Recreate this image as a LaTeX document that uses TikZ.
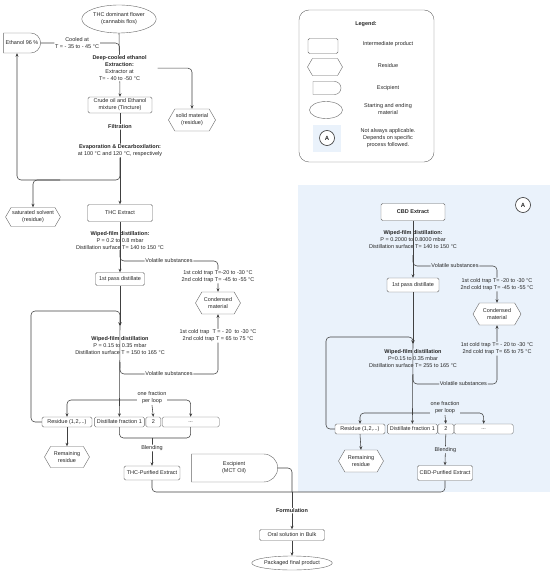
\documentclass[tikz,border=0pt]{standalone}
\usepackage{fontspec}
\setmainfont{Liberation Sans}
\usetikzlibrary{arrows.meta,positioning,shapes.geometric,shapes.misc,shapes.symbols}

\definecolor{panelblue}{RGB}{234,242,251}

\tikzset{
  box/.style={rectangle, rounded corners=1.5pt, draw=black!60, fill=white, inner sep=1pt, align=center},
  resid/.style={signal, signal to=east and west, signal pointer angle=120, draw=black!60, fill=white, inner sep=1pt, align=center},
  excip/.style={rounded rectangle, rounded rectangle left arc=none, draw=black!60, fill=white, inner sep=1pt, align=center},
  startend/.style={ellipse, draw=black!60, fill=white, inner sep=0.5pt, align=center},
  lab/.style={align=center, inner sep=0.8pt},
  wlab/.style={lab, fill=white},
  blab/.style={lab, fill=panelblue},
  flow/.style={draw=black!75, line width=0.55pt, rounded corners=4pt},
  arr/.style={flow, -{Stealth[length=3.5pt,width=3pt]}},
  markA/.style={circle, draw=black!80, line width=0.6pt, fill=white, minimum size=15pt, inner sep=0pt, font=\fontsize{6}{7}\selectfont\bfseries},
}

\begin{document}
\begin{tikzpicture}[x=1pt, y=-1pt, font=\fontsize{5.5}{7}\selectfont, text=black!85]
  \useasboundingbox (0,0) rectangle (550,577);

  % optional CBD branch
  \fill[panelblue] (298,185) rectangle (550,492);

  % legend
  \draw[draw=black!60, rounded corners=10pt] (299,10) rectangle (434,162);
  \node[lab] (lgtitle) at (366,24) {\textbf{Legend:}};
  \node[box, minimum width=30pt, minimum height=15pt] (lgbox) at (323,46) {};
  \node[lab] (lgboxt) at (388,44) {Intermediate product};
  \node[resid, minimum width=35pt, minimum height=17pt] (lgres) at (325,67) {};
  \node[lab] (lgrest) at (388,66) {Residue};
  \node[excip, minimum width=30pt, minimum height=13pt] (lgexc) at (327,88) {};
  \node[lab] (lgexct) at (388,88) {Excipient};
  \node[startend, minimum width=33pt, minimum height=17pt] (lgse) at (326,110) {};
  \node[lab] (lgset) at (388,109) {Starting and ending\\material};
  \fill[panelblue] (313,125) rectangle (341,152);
  \node[markA] (lgA) at (327,138) {A};
  \node[lab] (lgAt) at (388,138) {Not always applicable.\\Depends on specific\\process followed.};

  % THC line: extraction
  \node[startend, minimum width=71pt, minimum height=28pt] (flower) at (119,19) {THC dominant flower\\(cannabis flos)};
  \node[excip, minimum width=40pt, minimum height=20pt, inner sep=1.5pt] (eth) at (22,43) {Ethanol 96 \%};
  \node[box, minimum width=64pt, minimum height=16pt] (crude) at (120,105) {Crude oil and Ethanol\\mixture (Tincture)};
  \node[resid, minimum width=43pt, minimum height=22pt] (solid) at (192,120) {solid material\\(residue)};
  \node[resid, minimum width=47pt, minimum height=19pt] (sat) at (33,217) {saturated solvent\\(residue)};
  \node[box, minimum width=65pt, minimum height=17pt] (thc) at (120,213) {THC Extract};
  \coordinate (retn) at (17,180);
  \coordinate (solvsplit) at (60,180);

  \draw[arr] (flower.south) -- node[wlab, pos=0.55] (extr) {\textbf{Deep-cooled ethanol}\\\textbf{Extraction:}\\Extractor at\\T= - 40 to -50 °C} (crude.north);
  \draw[flow] (eth.east) -| node[wlab, pos=0.23] {Cooled at\\T = - 35 to - 45 °C} (extr.north);
  \draw[arr] ([xshift=10pt]extr.east) -| (solid.north);
  \draw[arr] (crude.south) -- node[wlab, pos=0.15] {\textbf{Filtration}}
    node[wlab, pos=0.41] (evap) {\textbf{Evaporation \& Decarboxilation:}\\at 100 °C and 120 °C, respectively} (thc.north);
  \draw[arr] (evap.south) |- (retn) -- (eth.south -| retn);
  \draw[arr] (solvsplit) -| (sat.north);

  % THC line: wiped-film distillation
  \node[lab] (wf1) at (120,241) {\textbf{Wiped-film distillation:}\\P = 0.2 to 0.8 mbar\\Distillation surface T= 140 to 150 °C};
  \node[box, minimum width=49pt, minimum height=13pt] (pass1) at (120,279) {1st pass distillate};
  \node[resid, minimum width=45pt, minimum height=22pt] (cond) at (218,303) {Condensed\\material};
  \node[lab] (wf2) at (120,346) {\textbf{Wiped-film distillation}\\P = 0.15 to 0.35 mbar\\Distillation surface T = 150 to 165 °C};
  \coordinate (v1) at (120,250);
  \coordinate (vt1) at (218,261);
  \coordinate (wf2in) at (120,326);
  \coordinate (v2) at (120,362);
  \coordinate (vb1) at (218,374);

  \draw[arr] (thc.south) -- (pass1.north);
  \draw[arr] (v1) |- node[wlab, pos=0.75] {Volatile substances} (vt1)
    -- node[wlab] {1st cold trap T=-20 to -30 °C\\2nd cold trap T= -45 to -55 °C} (cond.north);
  \draw[arr] (pass1.south) -- (wf2in);
  \draw[arr] (v2) |- node[wlab, pos=0.75] {Volatile substances} (vb1)
    -- node[wlab, pos=0.64] {1st cold trap\ \ T = - 20\ \ to -30 °C\\2nd cold trap T = 65 to 75 °C} (cond.south);

  % THC line: fractions
  \node[box, minimum width=50pt, minimum height=10pt] (res) at (67,422) {Residue (1,2,...)};
  \node[box, minimum width=50pt, minimum height=10pt, right=2pt of res] (df1) {Distillate fraction 1};
  \node[box, minimum width=15pt, minimum height=10pt, right=1pt of df1] (two) {2};
  \node[box, minimum width=57pt, minimum height=10pt, right=1pt of two] (dots) {...};
  \node[resid, minimum width=45pt, minimum height=21pt] (remres) at (67,457) {Remaining\\residue};
  \node[box, minimum width=56pt, minimum height=14pt] (thcp) at (152,473) {THC-Purified Extract};
  \node[excip, minimum width=88pt, minimum height=28pt] (exc) at (234,468) {Excipient\\(MCT Oil)};
  \coordinate (loopc) at (31,311);
  \coordinate (fsplit) at (120,400);
  \coordinate (bj) at (152,438);

  \draw[arr] (res.west) -| (loopc) -- (loopc -| wf2in) -- (wf2in);
  \draw[arr] (wf2in) -- (df1.north);
  \draw[arr] (fsplit) -| (res.north);
  \draw[arr] (fsplit) -| (dots.north);
  \node[wlab] (frac) at (152,398) {one fraction\\per loop};
  \draw[arr] (frac.south) -- (two.north);
  \draw[arr] (res.south) -- (remres.north);
  \draw[flow] (df1.south) |- (bj);
  \draw[flow] (dots.south) |- (bj);
  \draw[arr] (bj) -- node[wlab, pos=0.36] {Blending} (thcp.north);

  % CBD line
  \node[markA] (cbdA) at (523,205) {A};
  \node[box, minimum width=64pt, minimum height=17pt, font=\fontsize{5.5}{7}\selectfont\bfseries] (cbd) at (413,212) {CBD Extract};
  \node[lab] (wf3) at (413,240) {\textbf{Wiped-film distillation:}\\P = 0.2000 to 0.8000 mbar\\Distillation surface T= 140 to 150 °C};
  \node[box, minimum width=52pt, minimum height=14pt] (pass2) at (413,285) {1st pass distillate};
  \node[resid, minimum width=48pt, minimum height=22pt] (cond2) at (497,314) {Condensed\\material};
  \node[lab] (wf4) at (413,359) {\textbf{Wiped-film distillation}\\P=0.15 to 0.35 mbar\\Distillation surface T= 255 to 165 °C};
  \coordinate (cv1) at (413,255);
  \coordinate (cvt1) at (497,266);
  \coordinate (wf4in) at (413,344);
  \coordinate (cv2) at (413,374);
  \coordinate (cvb1) at (497,384);

  \draw[arr] (cbd.south) -- (pass2.north);
  \draw[arr] (cv1) |- node[blab, pos=0.75] {Volatile substances} (cvt1)
    -- node[blab] {1st cold trap T= -20 to -30 °C\\2nd cold trap T= -45 to -55 °C} (cond2.north);
  \draw[arr] (pass2.south) -- (wf4in);
  \draw[arr] (cv2) |- node[blab, pos=0.8] {Volatile substances} (cvb1)
    -- node[blab, pos=0.6] {1st cold trap T= - 20 to -30 °C\\2nd cold trap T= 65 to 75 °C} (cond2.south);

  \node[box, minimum width=50pt, minimum height=10pt] (res2) at (360,429) {Residue (1,2,...)};
  \node[box, minimum width=50pt, minimum height=10pt, right=2pt of res2] (df2) {Distillate fraction 1};
  \node[box, minimum width=16pt, minimum height=10pt, right=0pt of df2] (two2) {2};
  \node[box, minimum width=59pt, minimum height=10pt, right=0pt of two2] (dots2) {...};
  \node[resid, minimum width=45pt, minimum height=22pt] (remres2) at (361,461) {Remaining\\residue};
  \node[box, minimum width=55pt, minimum height=15pt] (cbdp) at (445,473) {CBD-Purified Extract};
  \coordinate (loopc2) at (326,337);
  \coordinate (fsplit2) at (413,413);

  \draw[arr] (res2.west) -| (loopc2) -- (loopc2 -| wf4in) -- (wf4in);
  \draw[arr] (wf4in) -- (df2.north);
  \draw[arr] (fsplit2) -| (res2.north);
  \draw[arr] (fsplit2) -| (dots2.north);
  \node[blab] (frac2) at (445,408) {one fraction\\per loop};
  \draw[arr] (frac2.south) -- (two2.north);
  \draw[arr] (res2.south) -- (remres2.north);
  \draw[arr] (two2.south) -- node[blab] {Blending} (cbdp.north);

  % formulation
  \node[box, minimum width=65pt, minimum height=11pt] (oral) at (292,535) {Oral solution in Bulk};
  \node[startend, minimum width=70pt, minimum height=14pt] (pack) at (292,563) {Packaged final product};
  \coordinate (fj) at (292,492);

  \draw[flow] (thcp.south) |- (fj);
  \draw[flow] (cbdp.south) |- (fj);
  \draw[flow] (exc.east) -| (fj);
  \draw[arr] (fj) -- node[wlab] {\textbf{Formulation}} (oral.north);
  \draw[arr] (oral.south) -- (pack.north);
\end{tikzpicture}
\end{document}
